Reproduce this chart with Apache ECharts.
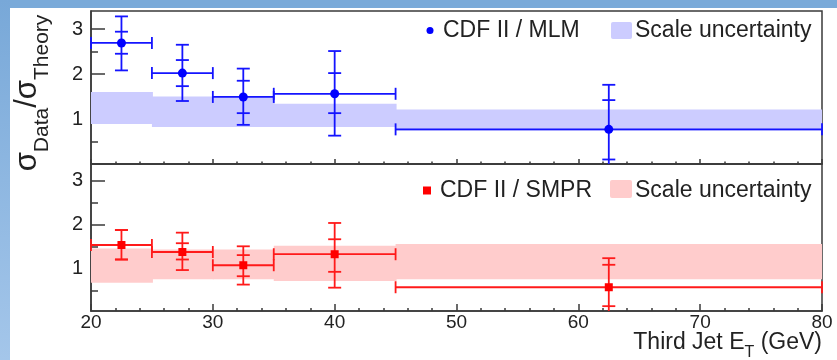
<!DOCTYPE html>
<html>
<head>
<meta charset="utf-8">
<script src="https://cdn.jsdelivr.net/npm/echarts@6/dist/echarts.min.js"></script>
<style>
html,body{margin:0;padding:0;background:#fff;}
#c{width:837px;height:360px;}
</style>
</head>
<body>
<div id="c"></div>
<script>
// ---- data ----
const binLo = [20, 25, 30, 35, 45];
const binHi = [25, 30, 35, 45, 80];
const mlmBandLo = [0.89, 0.82, 0.82, 0.82, 0.74];
const mlmBandHi = [1.60, 1.50, 1.50, 1.34, 1.21];
const smprBandLo = [0.68, 0.76, 0.76, 0.72, 0.76];
const smprBandHi = [1.46, 1.44, 1.44, 1.52, 1.56];

const pointX = [22.5, 27.5, 32.5, 40, 62.5];
const pointXLo = [20, 25, 30, 35, 45];
const pointXHi = [25, 30, 35, 45, 80];

const mlmY = [2.69, 2.02, 1.49, 1.56, 0.77];
const mlmTotLo = [2.08, 1.40, 0.87, 0.63, -0.30];
const mlmStatLo = [2.45, 1.73, 1.13, 1.13, 0.10];
const mlmStatHi = [2.94, 2.31, 1.85, 2.02, 1.42];
const mlmTotHi = [3.28, 2.65, 2.12, 2.51, 1.76];

const smprY = [1.54, 1.38, 1.08, 1.33, 0.58];
const smprTotLo = [1.21, 0.97, 0.64, 0.57, -0.20];
const smprStatLo = [1.21, 1.21, 0.83, 0.93, 0.15];
const smprStatHi = [1.88, 1.58, 1.31, 1.67, 1.09];
const smprTotHi = [1.88, 1.82, 1.51, 2.04, 1.24];

const xTicks = [20, 30, 40, 50, 60, 70, 80];
const yLabelTicks = [1, 2, 3];
const yMinorTicks = [0.5, 1.5, 2.5];

const legendTop = ['CDF II / MLM', 'Scale uncertainty'];
const legendBottom = ['CDF II / SMPR', 'Scale uncertainty'];

// ---- build ----
const FONT = '"Liberation Sans", Arial, Helvetica, sans-serif';
const AX = '#3a3a3a';
const BLUE = '#1414ff', RED = '#ff1a1a';
const BLUEBAND = '#ccccff', REDBAND = '#ffcccc';

function bandData(lo, hi) {
  return binLo.map((b, i) => [b, binHi[i], lo[i], hi[i]]);
}
function errData(y, tl, sl, sh, th) {
  return pointX.map((x, i) => [x, y[i], pointXLo[i], pointXHi[i], tl[i], sl[i], sh[i], th[i]]);
}

function bandItem(color) {
  return function (params, api) {
    const p0 = api.coord([api.value(0), api.value(3)]);
    const p1 = api.coord([api.value(1), api.value(2)]);
    const last = params.dataIndex === params.dataInsideLength - 1;
    return {
      type: 'rect',
      shape: { x: p0[0], y: p0[1], width: p1[0] - p0[0] + (last ? 0 : 1), height: p1[1] - p0[1] },
      style: { fill: color }
    };
  };
}

function errItem(color) {
  return function (params, api) {
    const cs = params.coordSys;
    const top = cs.y, bot = cs.y + cs.height;
    const inR = v => v >= top - 0.5 && v <= bot + 0.5;
    const cl = v => Math.max(top, Math.min(bot, v));
    const x = api.value(0), y = api.value(1);
    const c = api.coord([x, y]);
    const xl = api.coord([api.value(2), y])[0];
    const xh = api.coord([api.value(3), y])[0];
    const ys = [4, 5, 6, 7].map(k => api.coord([x, api.value(k)])[1]);
    const style = { stroke: color, lineWidth: 1.8, fill: null };
    const ln = (x1, y1, x2, y2) => ({ type: 'line', shape: { x1, y1, x2, y2 }, style });
    const ch = [];
    ch.push(ln(c[0], cl(ys[3]), c[0], cl(ys[0])));
    ys.forEach(v => { if (inR(v)) ch.push(ln(c[0] - 6.5, v, c[0] + 6.5, v)); });
    ch.push(ln(xl, c[1], xh, c[1]));
    ch.push(ln(xl, c[1] - 6, xl, c[1] + 6));
    ch.push(ln(xh, c[1] - 6, xh, c[1] + 6));
    return { type: 'group', children: ch };
  };
}

const chart = echarts.init(document.getElementById('c'), null, { renderer: 'canvas' });

const gridTop = { left: 91, top: 11, width: 731, height: 153 };
const gridBot = { left: 91, top: 164, width: 731, height: 147 };

function xAxis(gi, showLabel, tickLen, minorLen) {
  return {
    type: 'value', gridIndex: gi, min: 20, max: 80, interval: 10,
    axisLine: { show: true, onZero: false, lineStyle: { color: AX, width: 1.5 } },
    axisTick: { show: true, inside: true, length: tickLen, lineStyle: { color: AX, width: 1.5 } },
    minorTick: { show: true, splitNumber: 5, length: minorLen, lineStyle: { color: AX, width: 1.5 } },
    axisLabel: { show: showLabel, color: '#222', fontSize: 19, fontFamily: FONT, margin: 2,
      customValues: xTicks },
    splitLine: { show: false }
  };
}
function yAxisMajor(gi, min, max) {
  return {
    type: 'value', gridIndex: gi, min: min, max: max, position: 'left',
    axisLine: { show: true, onZero: false, lineStyle: { color: AX, width: 1.5 } },
    axisTick: { show: true, inside: true, length: 14, customValues: yLabelTicks, lineStyle: { color: AX, width: 1.5 } },
    axisLabel: { show: true, customValues: yLabelTicks, color: '#222', fontSize: 20, fontFamily: FONT, margin: 8 },
    splitLine: { show: false }
  };
}
function yAxisMinor(gi, min, max) {
  return {
    type: 'value', gridIndex: gi, min: min, max: max, position: 'left', offset: 0,
    axisLine: { show: false },
    axisTick: { show: true, inside: true, length: 7, customValues: yMinorTicks, lineStyle: { color: AX, width: 1.5 } },
    axisLabel: { show: false },
    splitLine: { show: false }
  };
}

const option = {
  animation: false,
  backgroundColor: '#ffffff',
  grid: [
    Object.assign({ show: true, borderColor: AX, borderWidth: 1.5, backgroundColor: 'transparent' }, gridTop),
    Object.assign({ show: true, borderColor: AX, borderWidth: 1.5, backgroundColor: 'transparent' }, gridBot)
  ],
  xAxis: [xAxis(0, false, 5, 2.5), xAxis(1, true, 7, 3)],
  yAxis: [yAxisMajor(0, 0, 3.4), yAxisMinor(0, 0, 3.4), yAxisMajor(1, 0.04, 3.38), yAxisMinor(1, 0.04, 3.38)],
  series: [
    { type: 'custom', xAxisIndex: 0, yAxisIndex: 0, renderItem: bandItem(BLUEBAND), data: bandData(mlmBandLo, mlmBandHi), z: 1, silent: true },
    { type: 'custom', xAxisIndex: 1, yAxisIndex: 2, renderItem: bandItem(REDBAND), data: bandData(smprBandLo, smprBandHi), z: 1, silent: true },
    { type: 'custom', xAxisIndex: 0, yAxisIndex: 0, renderItem: errItem(BLUE), data: errData(mlmY, mlmTotLo, mlmStatLo, mlmStatHi, mlmTotHi), z: 3, silent: true },
    { type: 'custom', xAxisIndex: 1, yAxisIndex: 2, renderItem: errItem(RED), data: errData(smprY, smprTotLo, smprStatLo, smprStatHi, smprTotHi), z: 3, silent: true },
    { type: 'scatter', xAxisIndex: 0, yAxisIndex: 0, symbol: 'circle', symbolSize: 9, itemStyle: { color: '#0000ff', opacity: 1 },
      data: pointX.map((x, i) => [x, mlmY[i]]), z: 4, silent: true },
    { type: 'scatter', xAxisIndex: 1, yAxisIndex: 2, symbol: 'rect', symbolSize: 8, itemStyle: { color: '#ff0000', opacity: 1 },
      data: pointX.map((x, i) => [x, smprY[i]]), z: 4, silent: true }
  ],
  graphic: [
    { type: 'rect', left: 0, top: 0, shape: { width: 837, height: 8 }, style: { fill: '#7aaad9' }, z: 100 },
    { type: 'rect', left: 0, top: 0, shape: { width: 10, height: 360 },
      style: { fill: new echarts.graphic.LinearGradient(0, 0, 0, 1, [{ offset: 0, color: '#78a8d8' }, { offset: 1, color: '#a4c6ea' }]) }, z: 100 },
    // y title
    { type: 'text', x: 27, y: 93, rotation: Math.PI / 2, z: 100,
      style: { text: '{s|σ}{b|Data}{s|/σ}{b|Theory}', align: 'center', verticalAlign: 'middle', fill: '#222',
        rich: {
          s: { fontSize: 31, lineHeight: 52, verticalAlign: 'middle', fontFamily: FONT, fill: '#222' },
          b: { fontSize: 21, verticalAlign: 'bottom', fontFamily: FONT, fill: '#222' }
        } } },
    // x title
    { type: 'text', x: 822, y: 343, z: 100,
      style: { text: '{a|Third Jet E}{t|T}{a| (GeV)}', align: 'right', verticalAlign: 'middle', fill: '#222',
        rich: {
          a: { fontSize: 23, lineHeight: 36, verticalAlign: 'middle', fontFamily: FONT, fill: '#222' },
          t: { fontSize: 16, verticalAlign: 'bottom', fontFamily: FONT, fill: '#222' }
        } } },
    // top legend
    { type: 'circle', shape: { cx: 430, cy: 30.5, r: 3.5 }, style: { fill: '#0000ff' }, z: 100 },
    { type: 'text', x: 443, y: 30.5, z: 100, style: { text: legendTop[0], fontSize: 23, fontFamily: FONT, fill: '#222', verticalAlign: 'middle', align: 'left' } },
    { type: 'rect', shape: { x: 611, y: 22, width: 21, height: 17, r: 2 }, style: { fill: BLUEBAND }, z: 100 },
    { type: 'text', x: 635, y: 30.5, z: 100, style: { text: legendTop[1], fontSize: 23, fontFamily: FONT, fill: '#222', verticalAlign: 'middle', align: 'left' } },
    // bottom legend
    { type: 'rect', shape: { x: 423, y: 186.5, width: 8, height: 8 }, style: { fill: '#ff0000' }, z: 100 },
    { type: 'text', x: 440, y: 190.5, z: 100, style: { text: legendBottom[0], fontSize: 23, fontFamily: FONT, fill: '#222', verticalAlign: 'middle', align: 'left' } },
    { type: 'rect', shape: { x: 610, y: 180, width: 22, height: 18, r: 2 }, style: { fill: REDBAND }, z: 100 },
    { type: 'text', x: 635, y: 190.5, z: 100, style: { text: legendBottom[1], fontSize: 23, fontFamily: FONT, fill: '#222', verticalAlign: 'middle', align: 'left' } }
  ]
};
chart.setOption(option);
</script>
</body>
</html>
